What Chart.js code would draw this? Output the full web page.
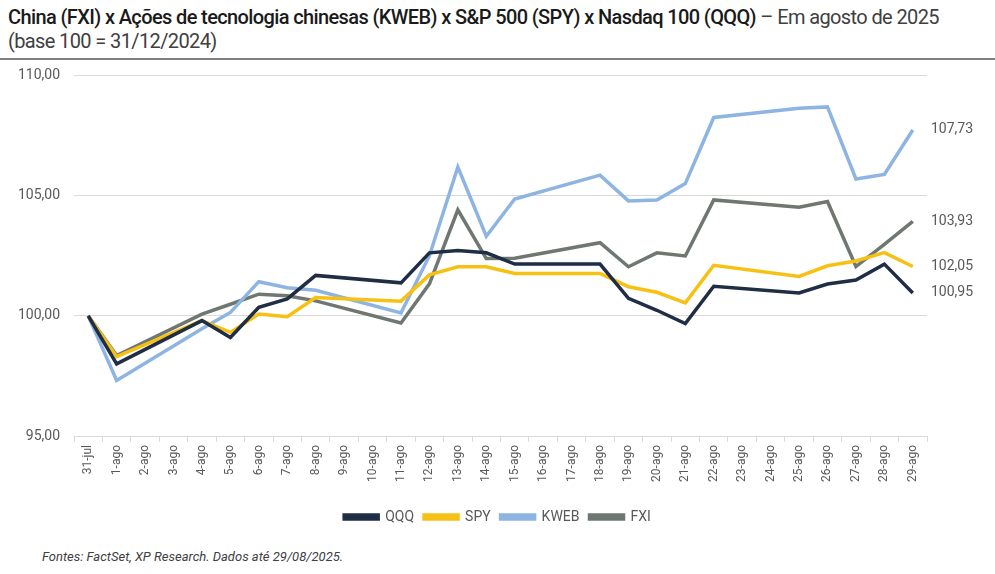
<!DOCTYPE html>
<html>
<head>
<meta charset="utf-8">
<script src="https://cdn.jsdelivr.net/npm/chart.js@4.4.1/dist/chart.umd.min.js"></script>
<style>
  body { margin: 0; background: #fff; font-family: Roboto, sans-serif; }
  #wrap { position: relative; width: 995px; height: 574px; overflow: hidden; }
  #titulo { position: absolute; left: 8px; top: 5px; font-size: 20px; line-height: 24px; color: #404040; letter-spacing: -0.62px; white-space: nowrap; }
  #titulo b { font-weight: 500; color: #1a1a1a; }
  #linha { position: absolute; left: 0; top: 58px; width: 995px; height: 2px; background: #7f7f7f; }
  #grafico { position: absolute; left: 0; top: 53px; width: 995px; height: 481px; }
  #fonte { position: absolute; left: 42px; top: 549px; font-size: 13px; font-style: italic; color: #404040; }
</style>
</head>
<body>
<div id="wrap">
  <div id="titulo"><b>China (FXI) x Ações de tecnologia chinesas (KWEB) x S&amp;P 500 (SPY) x Nasdaq 100 (QQQ)</b> – Em agosto de 2025<br>(base 100 = 31/12/2024)</div>
  <div id="linha"></div>
  <div id="grafico"><canvas id="chart"></canvas></div>
  <div id="fonte">Fontes: FactSet, XP Research. Dados até 29/08/2025.</div>
</div>
<script>
// datas (dias sem pregão ficam null)
const dias = ['31-jul', '1-ago', '2-ago', '3-ago', '4-ago', '5-ago', '6-ago', '7-ago', '8-ago', '9-ago',
    '10-ago', '11-ago', '12-ago', '13-ago', '14-ago', '15-ago', '16-ago', '17-ago', '18-ago', '19-ago',
    '20-ago', '21-ago', '22-ago', '23-ago', '24-ago', '25-ago', '26-ago', '27-ago', '28-ago', '29-ago'];

const qqq = [100, 98.0, null, null, 99.8, 99.1, 100.35, 100.7, 101.68, null,
    null, 101.37, 102.62, 102.72, 102.62, 102.15, null, null, 102.15, 100.73,
    100.23, 99.68, 101.23, null, null, 100.95, 101.32, 101.49, 102.15, 100.95];
const spy = [100, 98.3, null, null, 99.8, 99.31, 100.07, 99.96, 100.76, null,
    null, 100.61, 101.7, 102.04, 102.04, 101.76, null, null, 101.76, 101.21,
    100.98, 100.54, 102.1, null, null, 101.64, 102.08, 102.28, 102.63, 102.05];
const kweb = [100, 97.31, null, null, 99.46, 100.14, 101.42, 101.17, 101.06, null,
    null, 100.12, 102.5, 106.19, 103.31, 104.86, null, null, 105.85, 104.78,
    104.82, 105.5, 108.25, null, null, 108.63, 108.69, 105.69, 105.88, 107.73];
const fxi = [100, 98.35, null, null, 100.07, 100.48, 100.9, 100.83, 100.62, null,
    null, 99.7, 101.33, 104.41, 102.38, 102.39, null, null, 103.04, 102.04,
    102.62, 102.49, 104.82, null, null, 104.52, 104.75, 102.05, 102.97, 103.93];

const nomes = ['QQQ', 'SPY', 'KWEB', 'FXI'];
const cores = ['#1f2d45', '#f7c114', '#8db4e2', '#6f7870'];
const series = [qqq, spy, kweb, fxi];

const fmt = v => v.toFixed(2).replace('.', ',');

// rótulos do último valor à direita
const rotulosFinais = {
    id: 'rotulosFinais',
    afterDatasetsDraw(chart) {
        const { ctx, chartArea, scales } = chart;
        ctx.save();
        ctx.font = '14px Roboto';
        ctx.fillStyle = '#595959';
        ctx.textBaseline = 'middle';
        series.forEach(s => {
            const v = s[s.length - 1];
            ctx.fillText(fmt(v), chartArea.right + 4, scales.y.getPixelForValue(v));
        });
        ctx.restore();
    }
};

new Chart(document.getElementById('chart'), {
    type: 'line',
    data: {
        labels: dias,
        datasets: series.map((s, i) => ({
            label: nomes[i],
            data: s,
            borderColor: cores[i],
            backgroundColor: cores[i],
            borderWidth: 3.5,
            pointRadius: 0,
            tension: 0,
            spanGaps: true
        }))
    },
    options: {
        responsive: true,
        maintainAspectRatio: false,
        animation: false,
        layout: { padding: { left: 0, right: 0, top: 0, bottom: 0 } },
        plugins: {
            legend: {
                position: 'bottom',
                labels: { boxWidth: 34, boxHeight: 4, padding: 10, color: '#595959', font: { family: 'Roboto', size: 14 } }
            },
            tooltip: { enabled: false }
        },
        scales: {
            x: {
                offset: true,
                grid: { display: true, drawOnChartArea: false, color: '#d9d9d9', tickLength: 6, offset: true },
                border: { color: '#d9d9d9' },
                ticks: {
                    autoSkip: false, maxRotation: 90, minRotation: 90, padding: 3,
                    color: '#595959', font: { family: 'Roboto', size: 12 }
                },
                afterFit(s) { s.height = 64; }
            },
            y: {
                min: 95, max: 110,
                grid: { color: '#d9d9d9', drawTicks: false },
                border: { display: false },
                ticks: {
                    stepSize: 5, padding: 14,
                    color: '#595959', font: { family: 'Roboto', size: 14 },
                    callback: v => fmt(v)
                },
                afterFit(s) { s.width = 74; }
            },
            // eixo vazio à direita, só para reservar espaço dos rótulos
            y2: {
                position: 'right',
                display: true,
                grid: { display: false },
                border: { display: false },
                ticks: { display: false },
                afterFit(s) { s.width = 68; }
            }
        }
    },
    plugins: [rotulosFinais]
});
</script>
</body>
</html>
